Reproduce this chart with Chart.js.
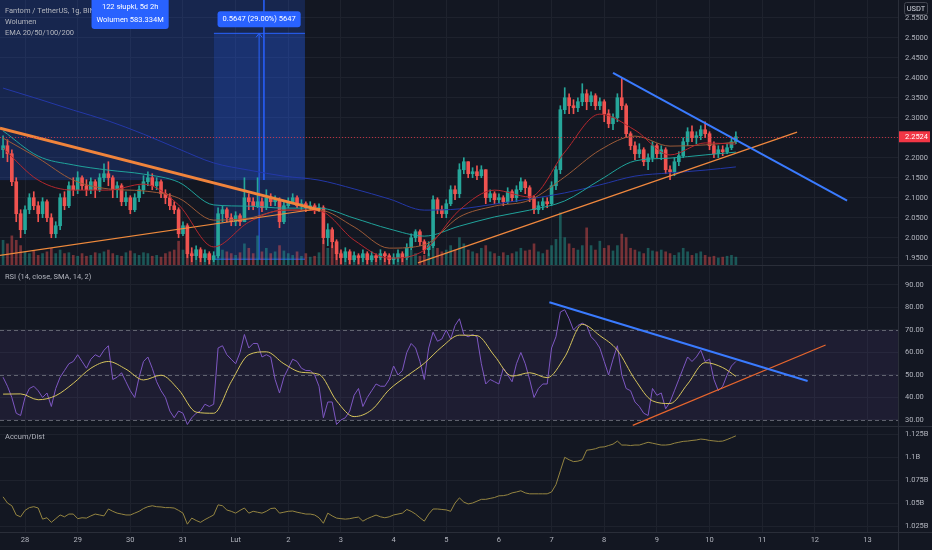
<!DOCTYPE html>
<html lang="pl">
<head>
<meta charset="utf-8">
<title>Fantom / TetherUS, 1g, BINANCE</title>
<script src="https://cdn.jsdelivr.net/npm/chart.js@4.4.1/dist/chart.umd.min.js"></script>
<style>
  html, body { margin: 0; padding: 0; background: #131722; }
  #wrap { position: relative; width: 932px; height: 550px; overflow: hidden; background: #131722; }
  #wrap canvas { position: absolute; left: 0; }
  .hsep { position: absolute; left: 0; width: 932px; height: 1px; background: #2a2e39; }
  .vsep { position: absolute; top: 0; left: 898px; width: 1px; height: 550px; background: #2a2e39; }
</style>
</head>
<body>
<div id="wrap">
  <canvas id="mainChart" width="932" height="266" style="top:0"></canvas>
  <canvas id="rsiChart" width="932" height="160" style="top:266px"></canvas>
  <canvas id="adChart" width="932" height="124" style="top:426px"></canvas>
  <div class="hsep" style="top:265px"></div>
  <div class="hsep" style="top:426px"></div>
  <div class="hsep" style="top:532px"></div>
  <div class="vsep"></div>
</div>
<script>
// os czasu: godziny od 28 stycznia 00:00
var X_MIN = -11.4, X_MAX = 397.9;
var dayHours = [0, 24, 48, 72, 96, 120, 144, 168, 192, 216, 240, 264, 288, 312, 336, 360, 384];
var dayLabels = ['28', '29', '30', '31', 'Lut', '2', '3', '4', '5', '6', '7', '8', '9', '10', '11', '12', '13'];

var priceTicks = [1.95, 2.00, 2.05, 2.10, 2.15, 2.20, 2.25, 2.30, 2.35, 2.40, 2.45, 2.50, 2.55];
var PRICE_MIN = 1.9293, PRICE_MAX = 2.5943;
var rsiTicks = [30, 40, 50, 60, 70, 80, 90];
var RSI_MIN = 27.33, RSI_MAX = 98.44;
var adTicks = [1.025, 1.05, 1.075, 1.1, 1.125];
var adTickLabels = ['1.025B', '1.05B', '1.075B', '1.1B', '1.125B'];
var AD_MIN = 1.0185, AD_MAX = 1.1337;
var VOL_MAX = 300;

// swiece 2-godzinne, pierwsza o godz. -10
var CANDLE_START = -10, CANDLE_STEP = 2;
var firstOpen = 2.22;
var closes = [
  2.23, 2.21, 2.14, 2.06, 2.02, 2.07, 2.10, 2.08, 2.06, 2.09, 2.05, 2.01,
  2.03, 2.10, 2.08, 2.13, 2.12, 2.15, 2.13, 2.12, 2.14, 2.12, 2.15, 2.16,
  2.15, 2.12, 2.13, 2.09, 2.10, 2.07, 2.10, 2.12, 2.14, 2.15, 2.13, 2.14,
  2.11, 2.10, 2.08, 2.07, 2.01, 2.03, 1.96, 1.955, 1.97, 1.95, 1.96, 1.945,
  1.955, 2.06, 2.07, 2.05, 2.04, 2.055, 2.04, 2.10, 2.09, 2.08, 2.09, 2.075,
  2.10, 2.09, 2.095, 2.04, 2.08, 2.09, 2.10, 2.08, 2.085, 2.075, 2.08, 2.07,
  2.075, 2.00, 2.02, 1.99, 1.96, 1.95, 1.965, 1.945, 1.955, 1.95, 1.96, 1.945,
  1.955, 1.95, 1.96, 1.955, 1.945, 1.95, 1.96, 1.95, 1.975, 2.00, 2.015, 1.99,
  1.97, 1.98, 2.095, 2.07, 2.06, 2.085, 2.12, 2.11, 2.17, 2.19, 2.16, 2.165,
  2.155, 2.17, 2.10, 2.11, 2.095, 2.10, 2.09, 2.115, 2.10, 2.12, 2.14, 2.125,
  2.10, 2.07, 2.08, 2.09, 2.085, 2.13, 2.17, 2.32, 2.35, 2.33, 2.325, 2.34,
  2.36, 2.34, 2.355, 2.33, 2.34, 2.31, 2.285, 2.30, 2.35, 2.33, 2.26, 2.23,
  2.21, 2.22, 2.19, 2.20, 2.23, 2.21, 2.22, 2.17, 2.165, 2.19, 2.205, 2.24,
  2.265, 2.25, 2.255, 2.27, 2.26, 2.23, 2.21, 2.22, 2.215, 2.225, 2.24, 2.2524
];
var highs = [
  2.255, 2.245, 2.22, 2.15, 2.07, 2.08, 2.11, 2.115, 2.09, 2.10, 2.095, 2.06,
  2.04, 2.11, 2.115, 2.14, 2.15, 2.165, 2.155, 2.145, 2.15, 2.145, 2.16, 2.185,
  2.19, 2.155, 2.14, 2.135, 2.115, 2.105, 2.11, 2.13, 2.155, 2.165, 2.16, 2.15,
  2.145, 2.12, 2.11, 2.09, 2.075, 2.04, 2.035, 1.975, 1.98, 1.975, 1.97, 1.965,
  1.965, 2.075, 2.08, 2.075, 2.06, 2.065, 2.06, 2.15, 2.11, 2.10, 2.15, 2.10,
  2.12, 2.11, 2.105, 2.10, 2.09, 2.10, 2.11, 2.105, 2.095, 2.09, 2.09, 2.085,
  2.085, 2.08, 2.035, 2.025, 1.995, 1.97, 1.975, 1.97, 1.965, 1.96, 1.97, 1.965,
  1.965, 1.96, 1.97, 1.965, 1.96, 1.96, 1.97, 1.965, 1.985, 2.01, 2.02, 2.02,
  1.995, 1.99, 2.105, 2.10, 2.08, 2.095, 2.13, 2.13, 2.185, 2.20, 2.19, 2.175,
  2.18, 2.18, 2.17, 2.12, 2.115, 2.11, 2.105, 2.125, 2.12, 2.13, 2.15, 2.145,
  2.13, 2.105, 2.09, 2.10, 2.10, 2.14, 2.18, 2.33, 2.375, 2.36, 2.345, 2.35,
  2.385, 2.37, 2.365, 2.36, 2.35, 2.345, 2.32, 2.31, 2.36, 2.40, 2.335, 2.265,
  2.24, 2.235, 2.225, 2.21, 2.24, 2.235, 2.23, 2.225, 2.18, 2.20, 2.215, 2.25,
  2.275, 2.28, 2.265, 2.28, 2.29, 2.265, 2.24, 2.23, 2.23, 2.235, 2.25, 2.265
];
var lows = [
  2.20, 2.19, 2.13, 2.04, 2.00, 2.01, 2.06, 2.07, 2.04, 2.05, 2.04, 2.00,
  2.00, 2.02, 2.07, 2.075, 2.105, 2.11, 2.12, 2.105, 2.11, 2.10, 2.115, 2.14,
  2.13, 2.10, 2.10, 2.08, 2.08, 2.06, 2.065, 2.09, 2.11, 2.13, 2.12, 2.12,
  2.10, 2.085, 2.07, 2.06, 2.00, 2.005, 1.95, 1.94, 1.945, 1.94, 1.94, 1.935,
  1.94, 1.95, 2.04, 2.04, 2.03, 2.03, 2.03, 2.04, 2.07, 2.07, 2.075, 2.065,
  2.07, 2.08, 2.08, 2.025, 2.035, 2.075, 2.085, 2.075, 2.07, 2.065, 2.07, 2.06,
  2.065, 1.985, 1.98, 1.975, 1.945, 1.935, 1.94, 1.935, 1.94, 1.935, 1.94, 1.935,
  1.94, 1.94, 1.945, 1.94, 1.935, 1.935, 1.94, 1.94, 1.945, 1.97, 1.99, 1.98,
  1.96, 1.955, 1.975, 2.06, 2.05, 2.05, 2.08, 2.095, 2.10, 2.16, 2.15, 2.15,
  2.145, 2.15, 2.085, 2.09, 2.085, 2.085, 2.08, 2.085, 2.09, 2.09, 2.115, 2.11,
  2.09, 2.06, 2.06, 2.07, 2.075, 2.08, 2.12, 2.16, 2.31, 2.31, 2.31, 2.315,
  2.33, 2.32, 2.33, 2.32, 2.32, 2.29, 2.275, 2.27, 2.29, 2.32, 2.25, 2.22,
  2.195, 2.20, 2.18, 2.17, 2.19, 2.20, 2.195, 2.16, 2.145, 2.155, 2.18, 2.20,
  2.23, 2.24, 2.235, 2.245, 2.25, 2.22, 2.20, 2.20, 2.205, 2.21, 2.22, 2.235
];
// wolumen w mln
var volumes = [
  29, 25, 34, 29, 23, 16, 14, 17, 12, 14, 16, 20,
  14, 18, 14, 15, 12, 11, 14, 11, 12, 15, 14, 16,
  18, 14, 12, 11, 15, 17, 14, 12, 15, 14, 11, 12,
  10, 14, 16, 18, 28, 18, 27, 16, 12, 11, 10, 14,
  11, 27, 18, 16, 14, 12, 15, 25, 20, 14, 34, 16,
  20, 14, 16, 23, 17, 14, 12, 16, 11, 14, 10, 11,
  15, 29, 20, 23, 25, 16, 14, 11, 12, 10, 11, 9,
  10, 11, 10, 14, 11, 10, 12, 11, 16, 18, 14, 11,
  12, 14, 27, 20, 16, 18, 23, 18, 32, 25, 18, 16,
  14, 20, 23, 16, 14, 11, 15, 12, 14, 16, 20, 17,
  18, 25, 16, 14, 18, 23, 30, 60, 32, 25, 20, 18,
  23, 43, 23, 18, 28, 20, 23, 17, 23, 36, 32, 20,
  18, 16, 14, 20, 17, 16, 18, 16, 14, 12, 15, 20,
  16, 12, 14, 16, 12, 10, 11, 9, 10, 11, 12, 10
];
var rsiValues = [
  49, 45, 40, 33, 32, 40, 44, 45, 43, 40, 42, 36,
  44, 49, 52, 55, 56, 59, 56, 53, 57, 59, 58, 61,
  63, 48, 49, 51, 47, 43, 40, 49, 56, 58, 53, 47,
  43, 40, 34, 31, 34, 33, 28, 31, 33, 34, 37, 36,
  37, 62, 63, 59, 57, 55, 60, 68, 62, 64, 64, 58,
  59, 58, 48, 42, 49, 53, 57, 56, 53, 52, 52, 50,
  45, 31, 38, 38, 28, 30, 31, 34, 41, 44, 36, 40,
  43, 46, 45, 45, 48, 54, 50, 52, 60, 64, 62, 56,
  48, 62, 69, 65, 66, 70, 66, 72, 75, 68, 67, 68,
  67, 55, 46, 48, 47, 46, 53, 50, 47, 55, 60, 55,
  48, 40, 44, 46, 46, 62, 67, 78, 79, 75, 70, 72,
  73, 72, 67, 65, 62, 56, 50, 57, 63, 50, 44, 43,
  38, 36, 33, 32, 44, 41, 42, 35, 38, 43, 48, 53,
  58, 56, 58, 61, 56, 57, 48, 43, 45, 50, 54, 56
];
// Accum/Dist w mld
var adValues = [
  1.0567, 1.050, 1.047, 1.037, 1.035, 1.042, 1.045, 1.046, 1.0446, 1.0325, 1.034, 1.029,
  1.033, 1.037, 1.035, 1.038, 1.038, 1.033, 1.034, 1.0336, 1.036, 1.038, 1.037, 1.036,
  1.0435, 1.041, 1.039, 1.038, 1.037, 1.037, 1.039, 1.041, 1.044, 1.046, 1.047, 1.046,
  1.0457, 1.045, 1.045, 1.0445, 1.042, 1.039, 1.027, 1.0336, 1.031, 1.029, 1.032, 1.0345,
  1.037, 1.048, 1.047, 1.0424, 1.041, 1.039, 1.042, 1.0446, 1.039, 1.041, 1.040, 1.039,
  1.041, 1.044, 1.0445, 1.039, 1.040, 1.041, 1.0413, 1.040, 1.039, 1.038, 1.038, 1.037,
  1.034, 1.028, 1.039, 1.036, 1.0336, 1.033, 1.0325, 1.033, 1.034, 1.0347, 1.0303, 1.033,
  1.035, 1.0369, 1.035, 1.034, 1.035, 1.037, 1.038, 1.039, 1.043, 1.041, 1.038, 1.034,
  1.0303, 1.038, 1.0435, 1.0435, 1.043, 1.0425, 1.041, 1.050, 1.0556, 1.051, 1.049, 1.050,
  1.052, 1.054, 1.054, 1.055, 1.056, 1.0578, 1.058, 1.059, 1.061, 1.062, 1.0633, 1.061,
  1.060, 1.060, 1.060, 1.060, 1.060, 1.062, 1.070, 1.085, 1.0997, 1.097, 1.095, 1.0955,
  1.097, 1.1074, 1.108, 1.109, 1.1107, 1.111, 1.1125, 1.114, 1.1173, 1.113, 1.113, 1.1125,
  1.113, 1.113, 1.1145, 1.116, 1.115, 1.114, 1.113, 1.113, 1.1135, 1.115, 1.116, 1.117,
  1.1173, 1.118, 1.1185, 1.1195, 1.119, 1.118, 1.1175, 1.117, 1.1173, 1.119, 1.121, 1.123
];

// EMA odczytane co 16 godzin
var emaHours = [-10, 6, 22, 38, 54, 70, 86, 102, 118, 134, 150, 166, 182, 198, 214, 230, 246, 262, 278, 294, 310, 324];
var ema20 = [2.224, 2.144, 2.119, 2.119, 2.134, 2.082, 1.977, 2.039, 2.069, 2.067, 1.994, 1.949, 1.969, 2.069, 2.119, 2.102, 2.214, 2.309, 2.269, 2.207, 2.237, 2.234];
var ema50 = [2.249, 2.199, 2.144, 2.122, 2.117, 2.099, 2.044, 2.049, 2.069, 2.069, 2.027, 1.974, 1.982, 2.052, 2.079, 2.094, 2.152, 2.219, 2.254, 2.229, 2.232, 2.239];
var ema100 = [2.267, 2.204, 2.182, 2.169, 2.159, 2.139, 2.082, 2.079, 2.074, 2.074, 2.049, 2.022, 2.004, 2.029, 2.052, 2.069, 2.092, 2.144, 2.192, 2.199, 2.207, 2.214];
var ema200 = [2.374, 2.347, 2.319, 2.292, 2.259, 2.222, 2.187, 2.169, 2.154, 2.144, 2.122, 2.097, 2.069, 2.072, 2.084, 2.097, 2.112, 2.132, 2.154, 2.162, 2.169, 2.177];

// srednia RSI odczytana co 8 godzin
var maHours = [-10, -2, 6, 14, 22, 30, 38, 46, 54, 62, 70, 78, 86, 94, 102, 110, 118, 126, 134, 142, 150, 158, 166, 174, 182, 190, 198, 206, 214, 222, 230, 238, 246, 254, 262, 270, 278, 286, 294, 302, 310, 318, 324];
var rsiMa = [41.5, 41.6, 39, 40.8, 46.3, 53, 56, 52.6, 47.8, 49.9, 43.5, 33.5, 33, 47, 59, 60.3, 55, 51.2, 50.3, 38.5, 31.5, 34.5, 43.5, 49.5, 55.2, 62.5, 67.7, 67.5, 58.5, 49.5, 51, 48.8, 58, 72.5, 67.5, 61, 48, 38.5, 37.3, 46, 55.5, 53.3, 49.4];

// linie trendu (godzina, wartosc)
var thickDownH = [-11.4, 134.5], thickDownP = [2.274, 2.069];
var thinUpH = [-11.4, 134.5], thinUpP = [1.956, 2.073];
var supportH = [179.1, 351.9], supportP = [1.937, 2.264];
var resistH = [268.0, 374.7], resistP = [2.412, 2.0925];
var rsiResistH = [239.0, 356.7], rsiResistV = [82.3, 47.3];
var rsiSupportH = [277.0, 364.9], rsiSupportV = [27.6, 63.3];

// narzedzia pomiaru
var shadeEndH = 127.6, shadeLow = 2.144;
var rangeStartH = 86.1, rangeEndH = 127.6, rangeArrowH = 106.7, rangeLow = 1.9463, rangeHigh = 2.511;
var dateEndH = 108.9, dateBars = 122;
var dateLabel = ['122 słupki, 5d 2h', 'Wolumen 583.334M'];
var rangeLabel = '0.5647 (29.00%) 5647';
var legendLines = ['Fantom / TetherUS, 1g, BINANCE', 'Wolumen', 'EMA 20/50/100/200'];

var FONT = 'Roboto, "Liberation Sans", sans-serif';
var GRID = '#1e222d';
var UP = '#26a69a', DOWN = '#ef5350';

Chart.defaults.font.family = FONT;
Chart.defaults.font.size = 7.5;
Chart.defaults.color = '#b2b5be';
Chart.defaults.animation = false;

var candleHours = closes.map(function (c, i) { return CANDLE_START + CANDLE_STEP * i; });
var opens = closes.map(function (c, i) { return i === 0 ? firstOpen : closes[i - 1]; });
var candleColors = closes.map(function (c, i) { return c >= opens[i] ? UP : DOWN; });
var volColors = closes.map(function (c, i) { return c >= opens[i] ? 'rgba(38,166,154,0.45)' : 'rgba(239,83,80,0.45)'; });
var lastPrice = closes[closes.length - 1];

function pts(xs, ys) {
  return xs.map(function (x, i) { return { x: x, y: ys[i] }; });
}

function lineSet(label, xs, ys, color, width, order, smooth) {
  return {
    type: 'line', label: label, data: pts(xs, ys),
    borderColor: color, borderWidth: width, pointRadius: 0,
    tension: smooth ? 0.4 : 0, cubicInterpolationMode: smooth ? 'monotone' : 'default',
    fill: false, order: order
  };
}

function xScale(showLabels) {
  return {
    type: 'linear', min: X_MIN, max: X_MAX, offset: false,
    afterBuildTicks: function (s) { s.ticks = dayHours.map(function (v) { return { value: v }; }); },
    afterFit: function (s) { s.height = showLabels ? 18 : 0; s.paddingLeft = 0; s.paddingRight = 0; },
    grid: { color: GRID, drawTicks: false, offset: false },
    border: { display: false },
    ticks: {
      display: showLabels, autoSkip: false, maxRotation: 0, padding: 4,
      callback: function (v, i) { return dayLabels[i]; }
    }
  };
}

function yScale(ticks, min, max, fmt) {
  return {
    position: 'right', min: min, max: max,
    afterBuildTicks: function (s) { s.ticks = ticks.map(function (v) { return { value: v }; }); },
    afterFit: function (s) { s.width = 34; s.paddingTop = 0; s.paddingBottom = 0; },
    grid: { color: GRID, drawTicks: false },
    border: { display: false },
    ticks: { padding: 7, autoSkip: false, callback: fmt }
  };
}

function box(ctx, x, y, w, h, r) {
  ctx.beginPath();
  if (ctx.roundRect) ctx.roundRect(x, y, w, h, r); else ctx.rect(x, y, w, h);
}

function paneTitle(text) {
  return {
    id: 'title',
    afterDraw: function (chart) {
      var ctx = chart.ctx;
      ctx.save();
      ctx.font = '7.5px ' + FONT;
      ctx.fillStyle = '#b2b5be';
      ctx.textBaseline = 'middle';
      ctx.fillText(text, 5, 11);
      ctx.restore();
    }
  };
}

var mainOverlay = {
  id: 'mainOverlay',
  beforeDatasetsDraw: function (chart) {
    var ctx = chart.ctx, a = chart.chartArea, x = chart.scales.x, y = chart.scales.y;
    var ys = y.getPixelForValue(shadeLow);
    ctx.save();
    ctx.fillStyle = 'rgba(41,98,255,0.2)';
    ctx.fillRect(a.left, a.top, x.getPixelForValue(shadeEndH) - a.left, ys - a.top);
    var x1 = x.getPixelForValue(rangeStartH), x2 = x.getPixelForValue(rangeEndH);
    var yH = y.getPixelForValue(rangeHigh), yL = y.getPixelForValue(rangeLow);
    ctx.fillRect(x1, yH, x2 - x1, yL - yH);
    ctx.strokeStyle = '#2962ff';
    ctx.lineWidth = 1;
    ctx.beginPath();
    ctx.moveTo(x1, yH); ctx.lineTo(x2, yH);
    ctx.moveTo(x1, yL); ctx.lineTo(x2, yL);
    var xa = x.getPixelForValue(rangeArrowH);
    ctx.moveTo(xa, yL); ctx.lineTo(xa, yH);
    ctx.moveTo(xa - 3, yH + 4); ctx.lineTo(xa, yH); ctx.lineTo(xa + 3, yH + 4);
    ctx.stroke();
    var xd = x.getPixelForValue(dateEndH);
    ctx.lineWidth = 1.5;
    ctx.beginPath();
    ctx.moveTo(xd, a.top); ctx.lineTo(xd, ys);
    ctx.stroke();
    ctx.restore();
  },
  afterDatasetsDraw: function (chart) {
    var ctx = chart.ctx, a = chart.chartArea;
    var yp = Math.round(chart.scales.y.getPixelForValue(lastPrice)) + 0.5;
    ctx.save();
    ctx.strokeStyle = 'rgba(242,54,69,0.75)';
    ctx.setLineDash([1, 2]);
    ctx.lineWidth = 1;
    ctx.beginPath();
    ctx.moveTo(a.left, yp); ctx.lineTo(a.right, yp);
    ctx.stroke();
    ctx.restore();
  },
  afterDraw: function (chart) {
    var ctx = chart.ctx, a = chart.chartArea, x = chart.scales.x, y = chart.scales.y;
    ctx.save();
    ctx.font = '7.5px ' + FONT;
    ctx.textBaseline = 'middle';
    ctx.fillStyle = '#b2b5be';
    legendLines.forEach(function (t, i) { ctx.fillText(t, 5, 11 + i * 11); });

    // etykieta zakresu dat
    ctx.textAlign = 'center';
    var cx = x.getPixelForValue(dateEndH - dateBars / 2);
    var w = Math.max(ctx.measureText(dateLabel[0]).width, ctx.measureText(dateLabel[1]).width) + 10;
    ctx.fillStyle = '#2962ff';
    box(ctx, cx - w / 2, -4, w, 33, 3);
    ctx.fill();
    ctx.fillStyle = '#ffffff';
    ctx.fillText(dateLabel[0], cx, 7);
    ctx.fillText(dateLabel[1], cx, 20);

    // etykieta zakresu cen
    var ca = x.getPixelForValue(rangeArrowH);
    var yTop = y.getPixelForValue(rangeHigh) - 22;
    var w2 = ctx.measureText(rangeLabel).width + 10;
    ctx.fillStyle = '#2962ff';
    box(ctx, ca - w2 / 2, yTop, w2, 16, 3);
    ctx.fill();
    ctx.fillStyle = '#ffffff';
    ctx.fillText(rangeLabel, ca, yTop + 8);

    // aktualna cena na osi
    var yp = y.getPixelForValue(lastPrice);
    ctx.fillStyle = '#f23645';
    ctx.fillRect(a.right + 1, yp - 5.5, 31, 11);
    ctx.fillStyle = '#ffffff';
    ctx.textAlign = 'left';
    ctx.fillText(lastPrice.toFixed(4), a.right + 7, yp + 0.5);

    // waluta
    ctx.fillStyle = '#131722';
    ctx.strokeStyle = '#434651';
    box(ctx, a.right + 6.5, 2.5, 23, 12, 2);
    ctx.fill();
    ctx.stroke();
    ctx.fillStyle = '#d1d4dc';
    ctx.textAlign = 'center';
    ctx.fillText('USDT', a.right + 18, 9);
    ctx.restore();
  }
};

var rsiBand = {
  id: 'rsiBand',
  beforeDatasetsDraw: function (chart) {
    var ctx = chart.ctx, a = chart.chartArea, y = chart.scales.y;
    var y70 = y.getPixelForValue(70), y30 = y.getPixelForValue(30), y50 = y.getPixelForValue(50);
    ctx.save();
    ctx.fillStyle = 'rgba(126,87,194,0.1)';
    ctx.fillRect(a.left, y70, a.right - a.left, y30 - y70);
    ctx.strokeStyle = 'rgba(120,123,134,0.75)';
    ctx.setLineDash([4, 3]);
    ctx.lineWidth = 1;
    [y70, y50, y30].forEach(function (v) {
      var p = Math.round(v) + 0.5;
      ctx.beginPath(); ctx.moveTo(a.left, p); ctx.lineTo(a.right, p); ctx.stroke();
    });
    ctx.restore();
  }
};

var baseOptions = {
  responsive: false, animation: false, events: [],
  layout: { padding: 0 },
  plugins: { legend: { display: false }, tooltip: { enabled: false } }
};

new Chart(document.getElementById('mainChart'), {
  type: 'bar',
  data: {
    datasets: [
      lineSet('EMA 20', emaHours, ema20, '#b5282e', 1, 3, true),
      lineSet('EMA 50', emaHours, ema50, '#9c5b38', 1, 3, true),
      lineSet('EMA 100', emaHours, ema100, '#20a39b', 1, 3, true),
      lineSet('EMA 200', emaHours, ema200, '#2438a8', 1, 3, true),
      lineSet('trend 1', thickDownH, thickDownP, '#f0843c', 3, 1),
      lineSet('trend 2', thinUpH, thinUpP, '#f08a3c', 1.2, 1),
      lineSet('trend 3', supportH, supportP, '#f0883e', 1.2, 1),
      lineSet('trend 4', resistH, resistP, '#3a7bff', 2, 0),
      {
        label: 'Wolumen', yAxisID: 'yv', grouped: false, order: 10,
        data: pts(candleHours, volumes), backgroundColor: volColors, barThickness: 2
      },
      {
        label: 'knoty', grouped: false, order: 6,
        data: candleHours.map(function (h, i) { return { x: h, y: [lows[i], highs[i]] }; }),
        backgroundColor: candleColors, barThickness: 1
      },
      {
        label: 'korpusy', grouped: false, order: 5, minBarLength: 1,
        data: candleHours.map(function (h, i) { return { x: h, y: [opens[i], closes[i]] }; }),
        backgroundColor: candleColors, barThickness: 3
      }
    ]
  },
  options: Object.assign({}, baseOptions, {
    scales: {
      x: xScale(false),
      y: yScale(priceTicks, PRICE_MIN, PRICE_MAX, function (v) { return v.toFixed(4); }),
      yv: { display: false, min: 0, max: VOL_MAX }
    }
  }),
  plugins: [mainOverlay]
});

new Chart(document.getElementById('rsiChart'), {
  type: 'line',
  data: {
    datasets: [
      lineSet('RSI', candleHours, rsiValues, '#7e57c2', 1, 3),
      lineSet('RSI MA', maHours, rsiMa, '#d6c45c', 1, 2, true),
      lineSet('opór', rsiResistH, rsiResistV, '#3a7bff', 2, 0),
      lineSet('wsparcie', rsiSupportH, rsiSupportV, '#e8662e', 1.2, 0)
    ]
  },
  options: Object.assign({}, baseOptions, {
    scales: {
      x: xScale(false),
      y: yScale(rsiTicks, RSI_MIN, RSI_MAX, function (v) { return v.toFixed(2); })
    }
  }),
  plugins: [rsiBand, paneTitle('RSI (14, close, SMA, 14, 2)')]
});

new Chart(document.getElementById('adChart'), {
  type: 'line',
  data: {
    datasets: [lineSet('Accum/Dist', candleHours, adValues, '#958541', 1, 0)]
  },
  options: Object.assign({}, baseOptions, {
    scales: {
      x: xScale(true),
      y: yScale(adTicks, AD_MIN, AD_MAX, function (v, i) { return adTickLabels[i]; })
    }
  }),
  plugins: [paneTitle('Accum/Dist')]
});
</script>
</body>
</html>
